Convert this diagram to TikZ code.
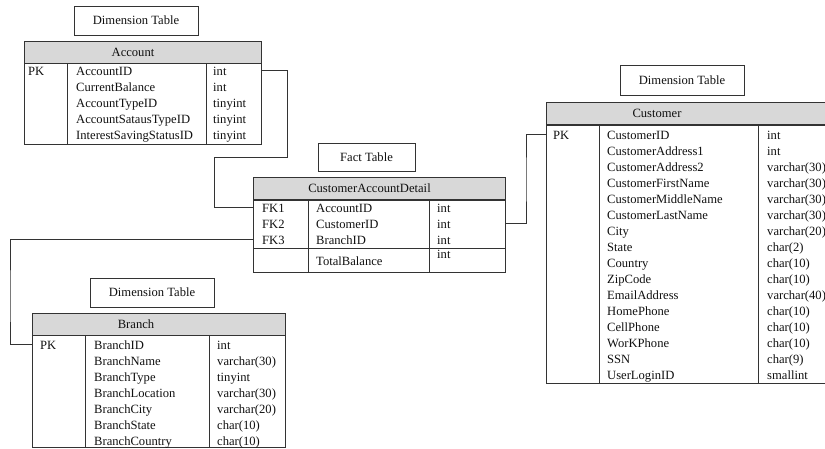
\documentclass[tikz,border=0pt]{standalone}
\usepackage{fontspec}
\setmainfont{Liberation Serif}
\usetikzlibrary{positioning}
\definecolor{ink}{HTML}{101010}
\definecolor{rule}{HTML}{333333}
\definecolor{headfill}{HTML}{D8D8D8}

\begin{document}
\begin{tikzpicture}[
  x=1pt, y=-1pt,
  font=\fontsize{12.6}{16}\selectfont,
  tbltitle/.style={draw=rule, line width=1pt, text=ink, inner sep=0pt},
  tblhead/.style={draw=rule, fill=headfill, line width=1pt, anchor=north west,
    inner sep=0pt, minimum height=22pt},
  tblbody/.style={draw=rule, line width=1pt, anchor=north west, inner sep=0pt},
  headtxt/.style={text=ink, inner sep=0pt},
  cell/.style={text=ink, anchor=base west, inner sep=0pt},
  colline/.style={draw=rule, line width=1pt},
  link/.style={draw=rule, line width=1pt}
]
\useasboundingbox (0,0) rectangle (825,448);
\clip (0,0) rectangle (825,448);

% Account
\node[tbltitle, minimum width=124pt, minimum height=29pt] (acc-title) at (136,20.5) {Dimension Table};
\node[tblhead, minimum width=237pt] (acc-head) at (24,41) {};
\node[headtxt] (acc-name) at (133,52) {Account};
\node[tblbody, minimum width=237pt, minimum height=81pt] (acc-body) at (24,63) {};
\draw[colline] ([xshift=43pt]acc-body.north west) -- ([xshift=43pt]acc-body.south west);
\draw[colline] ([xshift=182pt]acc-body.north west) -- ([xshift=182pt]acc-body.south west);
\node[cell] (acc-key-0) at (28,75) {PK};
\foreach \f/\t [count=\i from 0] in {AccountID/int, CurrentBalance/int,
    AccountTypeID/tinyint, AccountSatausTypeID/tinyint, InterestSavingStatusID/tinyint} {
  \node[cell] (acc-f-\i) at (76,{75+16*\i}) {\f};
  \node[cell] (acc-t-\i) at (213,{75+16*\i}) {\t};
}

% Fact
\node[tbltitle, minimum width=97pt, minimum height=28pt] (fact-title) at (366.5,157) {Fact Table};
\node[tblhead, minimum width=252pt] (fact-head) at (253,177) {};
\node[headtxt] (fact-name) at (369.5,188.5) {CustomerAccountDetail};
\node[tblbody, minimum width=252pt, minimum height=72pt] (fact-body) at (253,200) {};
\draw[colline] ([xshift=55pt]fact-body.north west) -- ([xshift=55pt]fact-body.south west);
\draw[colline] ([xshift=176pt]fact-body.north west) -- ([xshift=176pt]fact-body.south west);
\draw[colline] ([yshift=-48pt]fact-body.north west) -- ([yshift=-48pt]fact-body.north east);
\foreach \k/\f [count=\i from 0] in {FK1/AccountID, FK2/CustomerID, FK3/BranchID} {
  \node[cell] (fact-key-\i) at (262,{212+16*\i}) {\k};
  \node[cell] (fact-f-\i) at (316,{212+16*\i}) {\f};
  \node[cell] (fact-t-\i) at (437,{212+16*\i}) {int};
}
\node[cell] (fact-f-3) at (316,265) {TotalBalance};
\node[cell] (fact-t-3) at (437,258) {int};

% Customer
\node[tbltitle, minimum width=124pt, minimum height=30pt] (cu-title) at (682,80) {Dimension Table};
\node[tblhead, minimum width=294pt] (cu-head) at (546,102) {};
\node[headtxt] (cu-name) at (657,113.5) {Customer};
\node[tblbody, minimum width=294pt, minimum height=258pt] (cu-body) at (546,125) {};
\draw[colline] ([xshift=53pt]cu-body.north west) -- ([xshift=53pt]cu-body.south west);
\draw[colline] ([xshift=212pt]cu-body.north west) -- ([xshift=212pt]cu-body.south west);
\node[cell] (cu-key-0) at (553,139) {PK};
\foreach \f/\t [count=\i from 0] in {CustomerID/int, CustomerAddress1/int,
    CustomerAddress2/varchar(30), CustomerFirstName/varchar(30),
    CustomerMiddleName/varchar(30), CustomerLastName/varchar(30), City/varchar(20),
    State/char(2), Country/char(10), ZipCode/char(10), EmailAddress/varchar(40),
    HomePhone/char(10), CellPhone/char(10), WorKPhone/char(10), SSN/char(9),
    UserLoginID/smallint} {
  \node[cell] (cu-f-\i) at (607,{139+16*\i}) {\f};
  \node[cell] (cu-t-\i) at (767,{139+16*\i}) {\t};
}

% Branch
\node[tbltitle, minimum width=124pt, minimum height=29pt] (br-title) at (152,292.5) {Dimension Table};
\node[tblhead, minimum width=253pt] (br-head) at (32,313) {};
\node[headtxt] (br-name) at (136,324) {Branch};
\node[tblbody, minimum width=253pt, minimum height=112pt] (br-body) at (32,335) {};
\draw[colline] ([xshift=53pt]br-body.north west) -- ([xshift=53pt]br-body.south west);
\draw[colline] ([xshift=177pt]br-body.north west) -- ([xshift=177pt]br-body.south west);
\node[cell] (br-key-0) at (40,349) {PK};
\foreach \f/\t [count=\i from 0] in {BranchID/int, BranchName/varchar(30),
    BranchType/tinyint, BranchLocation/varchar(30), BranchCity/varchar(20),
    BranchState/char(10), BranchCountry/char(10)} {
  \node[cell] (br-f-\i) at (94,{349+16*\i}) {\f};
  \node[cell] (br-t-\i) at (217,{349+16*\i}) {\t};
}

% links
\coordinate (acc-turn) at (287,157);
\coordinate (acc-drop) at (214,157);
\coordinate (br-side) at (10,300);
\coordinate (cu-side) at (526,180);
\draw[link] (acc-body.east |- acc-key-0) -| (acc-turn) -- (acc-drop) |- (fact-body.west |- fact-key-0);
\draw[link] (fact-body.west |- fact-key-2) -| (br-side) |- (br-body.west |- br-key-0);
\draw[link] (fact-body.east |- fact-key-1) -| (cu-side) |- (cu-body.west |- cu-key-0);
\end{tikzpicture}
\end{document}
